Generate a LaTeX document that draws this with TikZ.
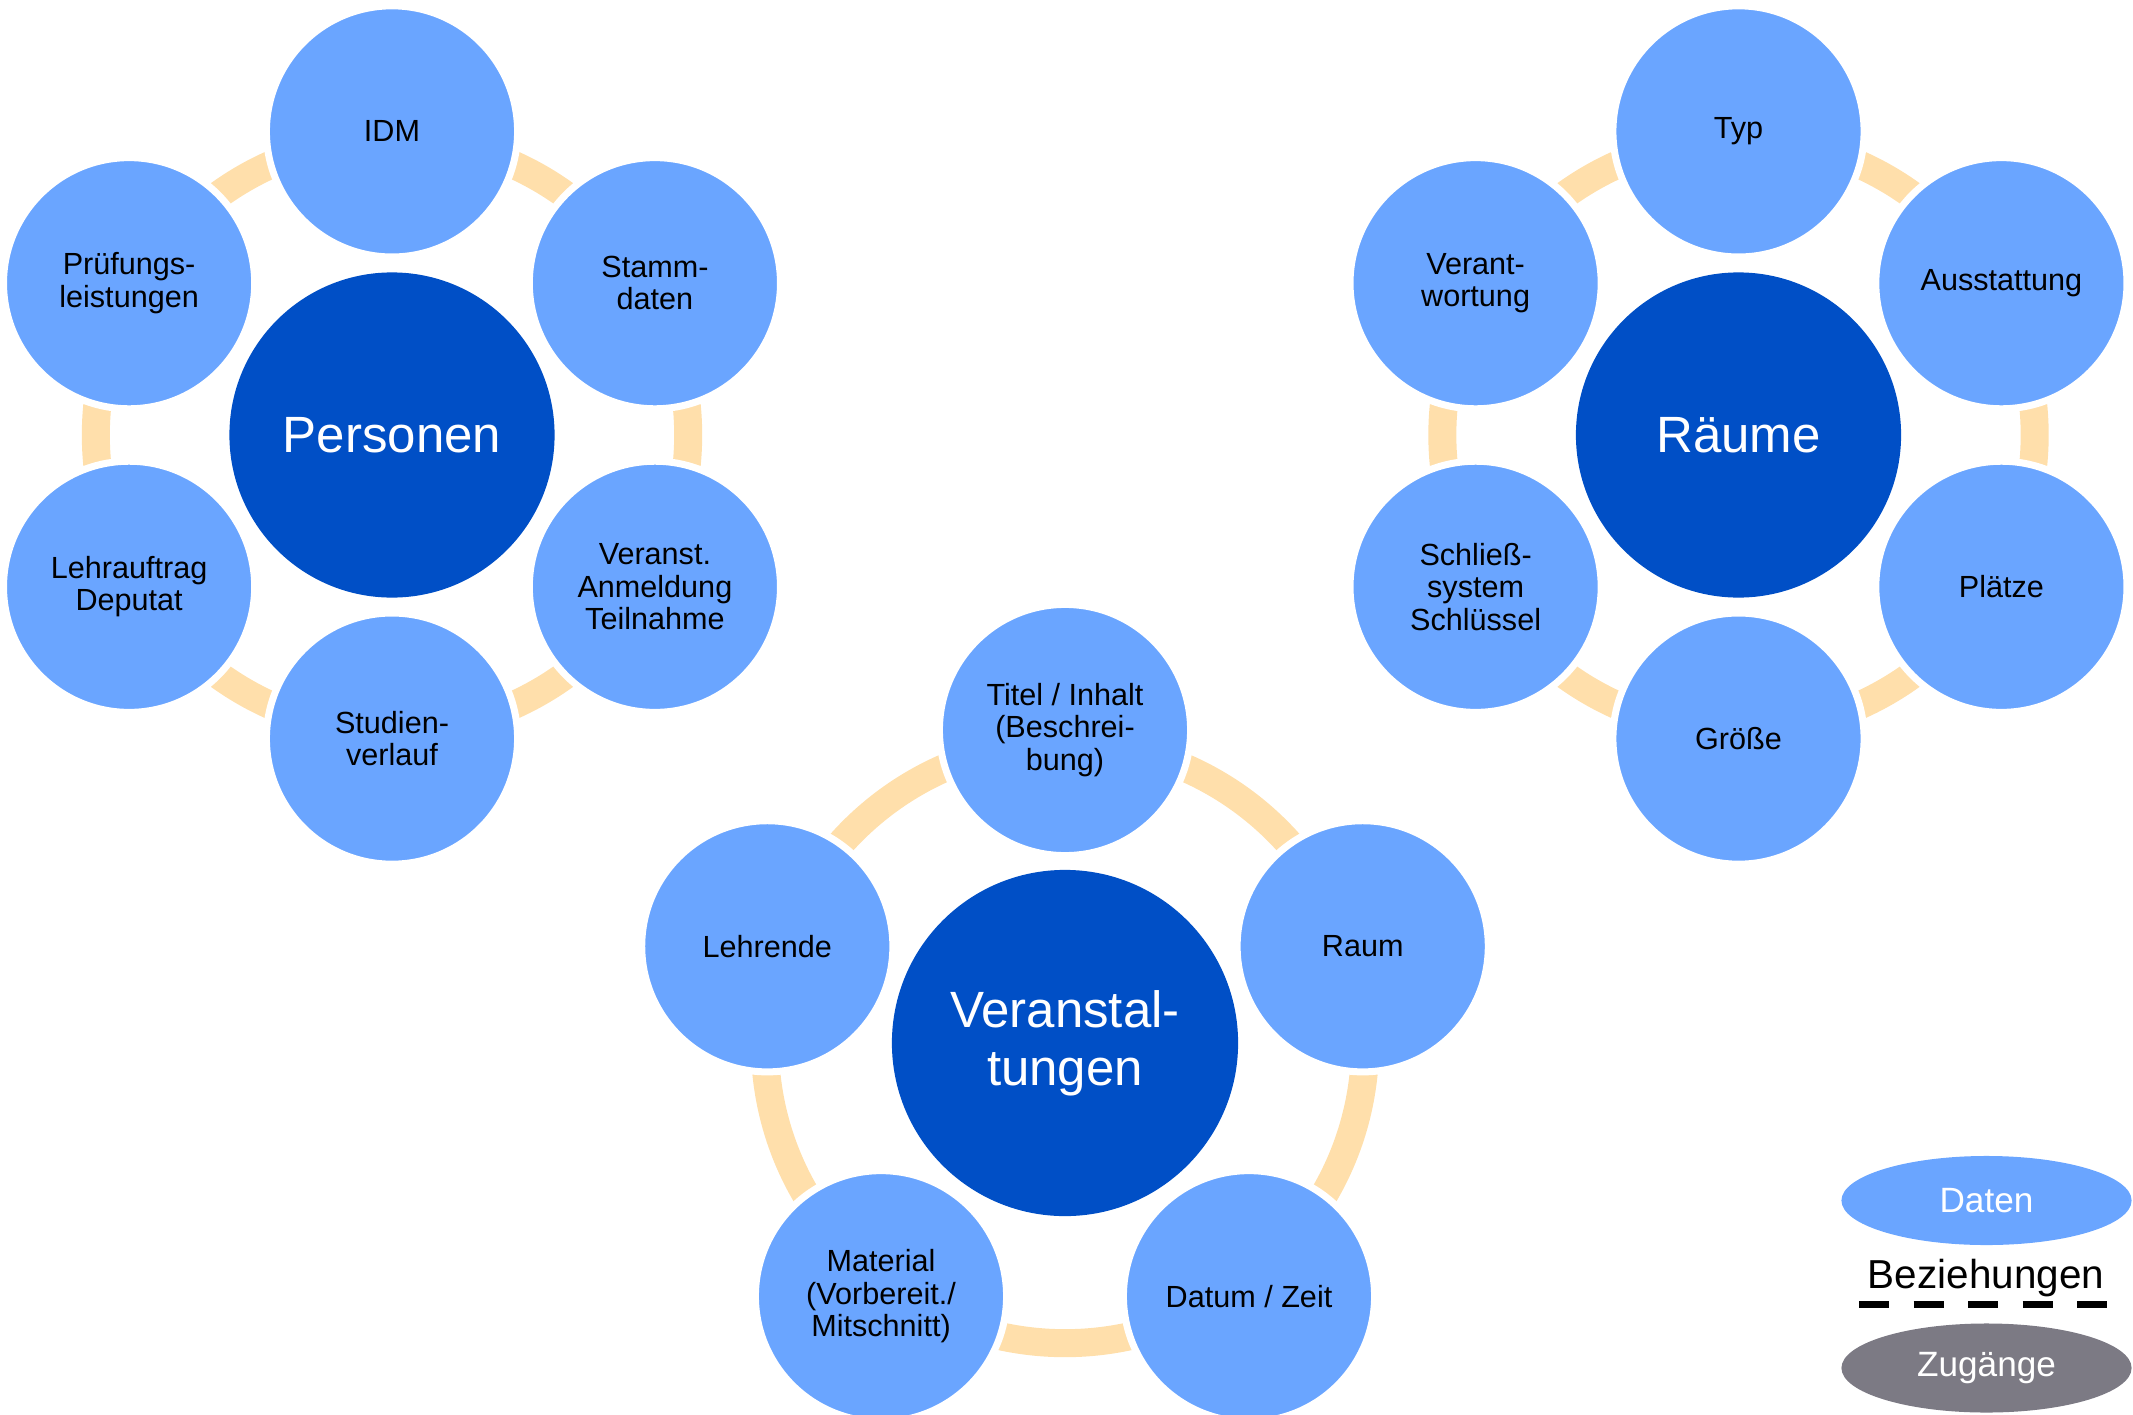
\documentclass[tikz,border=0pt]{standalone}
\usepackage{fontspec}
\setmainfont{Liberation Sans}
\usetikzlibrary{shapes.geometric}

\definecolor{hellblau}{HTML}{6AA5FF}
\definecolor{dunkelblau}{HTML}{004FC6}
\definecolor{ringfarbe}{HTML}{FFDFAB}
\definecolor{zugangsgrau}{HTML}{7C7A84}

\tikzset{
  daten/.style={circle, fill=hellblau, draw=white, line width=0.07cm, minimum size=2.51cm, inner sep=0pt, align=center, font=\fontsize{8.7}{9.2}\selectfont},
  haupt/.style={circle, fill=dunkelblau, inner sep=0pt, align=center, text=white, font=\fontsize{14.5}{16.6}\selectfont},
  ring/.style={draw=ringfarbe, line width=0.28cm},
  legende/.style={ellipse, minimum width=2.9cm, minimum height=0.89cm, inner sep=0pt, text=white, font=\fontsize{10}{12}\selectfont}
}

\begin{document}
\begin{tikzpicture}[x=0.01cm, y=-0.01cm]
\useasboundingbox (0,0) rectangle (2133,1415);

% Mitte
\node [haupt, minimum size=3.25cm] (pers) at (392,435) {Personen};
\node [haupt, minimum size=3.25cm] (raeume) at (1738.5,435) {R\"aume};
\node [haupt, minimum size=3.46cm] (veran) at (1065,1043) {Veranstal-\\tungen};

\draw [ring] (pers) circle [radius=2.96cm];
\draw [ring] (raeume) circle [radius=2.96cm];
\draw [ring] (veran) circle [radius=3.0cm];

% Personen
\node [daten] (idm) at (392,131.4) {IDM};
\node [daten] (stamm) at (654.9,283.2) {Stamm-\\daten};
\node [daten] (anmeld) at (654.9,586.8) {Veranst.\\Anmeldung\\Teilnahme};
\node [daten] (studien) at (392,738.6) {Studien-\\verlauf};
\node [daten] (lehrauftrag) at (129.1,586.8) {Lehrauftrag\\Deputat};
\node [daten] (pruef) at (129.1,283.2) {Pr\"ufungs-\\leistungen};

% Raeume
\node [daten] (typ) at (1738.5,131.4) {Typ};
\node [daten] (ausstattung) at (2001.4,283.2) {Ausstattung};
\node [daten] (plaetze) at (2001.4,586.8) {Pl\"atze};
\node [daten] (groesse) at (1738.5,738.6) {Gr\"o\ss e};
\node [daten] (schliess) at (1475.6,586.8) {Schlie\ss-\\system\\Schl\"ussel};
\node [daten] (verant) at (1475.6,283.2) {Verant-\\wortung};

% Veranstaltungen
\node [daten] (titel) at (1065,730) {Titel / Inhalt\\(Beschrei-\\bung)};
\node [daten] (raum) at (1362.7,946.3) {Raum};
\node [daten] (datum) at (1249,1296.2) {Datum / Zeit};
\node [daten] (material) at (881,1296.2) {Material\\(Vorbereit./\\Mitschnitt)};
\node [daten] (lehrende) at (767.3,946.3) {Lehrende};

% Legende
\node [legende, fill=hellblau] (legdaten) at (1986.5,1200.5) {Daten};
\node [font=\fontsize{11.5}{13}\selectfont, anchor=base] (legbez) at (1986,1288) {Beziehungen};
\coordinate (bzl) at (1859,1304.5);
\coordinate (bzr) at (2107,1304.5);
\draw [line width=0.07cm, dash pattern=on 0.30cm off 0.245cm] (bzl) -- (bzr);
\node [legende, fill=zugangsgrau] (legzug) at (1986.5,1368) {Zug\"ange};
\end{tikzpicture}
\end{document}
